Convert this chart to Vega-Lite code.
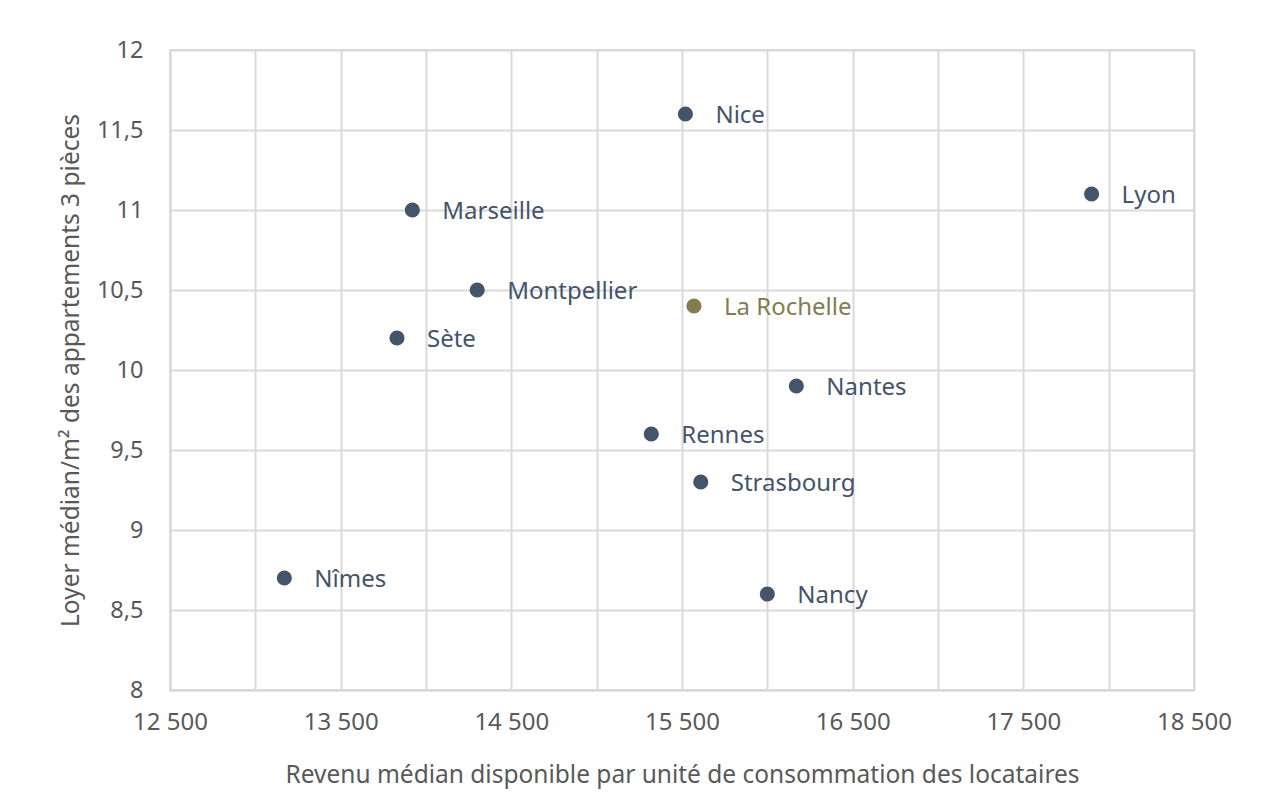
{
  "$schema": "https://vega.github.io/schema/vega-lite/v6.json",
  "autosize": {"type": "none"},
  "padding": {"left": 170, "top": 50, "right": 67, "bottom": 117},
  "width": 1024,
  "height": 640,
  "background": "white",
  "config": {
    "font": "Noto Sans",
    "view": {"stroke": "#D9D9D9", "strokeWidth": 2},
    "axis": {
      "gridColor": "#D9D9D9",
      "gridWidth": 2,
      "domainColor": "#D9D9D9",
      "domainWidth": 2,
      "ticks": false,
      "labelColor": "#595959",
      "labelFontSize": 24,
      "labelFont": "Noto Sans",
      "titleColor": "#595959",
      "titleFontSize": 24.5,
      "titleFont": "Noto Sans",
      "titleFontWeight": "normal"
    }
  },
  "data": {
    "values": [
      {"ville": "Nice", "revenu": 15520, "loyer": 11.6, "groupe": "autre"},
      {"ville": "Lyon", "revenu": 17900, "loyer": 11.1, "groupe": "autre"},
      {"ville": "Marseille", "revenu": 13920, "loyer": 11.0, "groupe": "autre"},
      {"ville": "Montpellier", "revenu": 14300, "loyer": 10.5, "groupe": "autre"},
      {"ville": "La Rochelle", "revenu": 15570, "loyer": 10.4, "groupe": "La Rochelle"},
      {"ville": "Sète", "revenu": 13830, "loyer": 10.2, "groupe": "autre"},
      {"ville": "Nantes", "revenu": 16170, "loyer": 9.9, "groupe": "autre"},
      {"ville": "Rennes", "revenu": 15320, "loyer": 9.6, "groupe": "autre"},
      {"ville": "Strasbourg", "revenu": 15610, "loyer": 9.3, "groupe": "autre"},
      {"ville": "Nîmes", "revenu": 13170, "loyer": 8.7, "groupe": "autre"},
      {"ville": "Nancy", "revenu": 16000, "loyer": 8.6, "groupe": "autre"}
    ]
  },
  "encoding": {
    "x": {
      "field": "revenu",
      "type": "quantitative",
      "scale": {"domain": [12500, 18500], "nice": false, "zero": false},
      "axis": {
        "values": [12500, 13000, 13500, 14000, 14500, 15000, 15500, 16000, 16500, 17000, 17500, 18000, 18500],
        "labelExpr": "datum.value % 1000 == 500 ? replace(format(datum.value, ','), ',', ' ') : ''",
        "labelPadding": 20,
        "labelFlush": false,
        "labelOverlap": false,
        "title": "Revenu médian disponible par unité de consommation des locataires",
        "titlePadding": 29
      }
    },
    "y": {
      "field": "loyer",
      "type": "quantitative",
      "scale": {"domain": [8, 12], "nice": false, "zero": false},
      "axis": {
        "values": [8, 8.5, 9, 9.5, 10, 10.5, 11, 11.5, 12],
        "labelExpr": "replace(format(datum.value, ''), '.', ',')",
        "labelPadding": 27,
        "labelFontSize": 23.5,
        "labelFlush": false,
        "title": "Loyer médian/m² des appartements 3 pièces",
        "titlePadding": 13
      }
    },
    "color": {
      "field": "groupe",
      "type": "nominal",
      "scale": {"domain": ["autre", "La Rochelle"], "range": ["#44546A", "#847C4E"]},
      "legend": null
    }
  },
  "layer": [
    {"mark": {"type": "circle", "size": 230, "opacity": 1}},
    {
      "mark": {"type": "text", "align": "left", "baseline": "middle", "dx": 30, "dy": 2, "fontSize": 24, "font": "Noto Sans"},
      "encoding": {"text": {"field": "ville"}}
    }
  ]
}
